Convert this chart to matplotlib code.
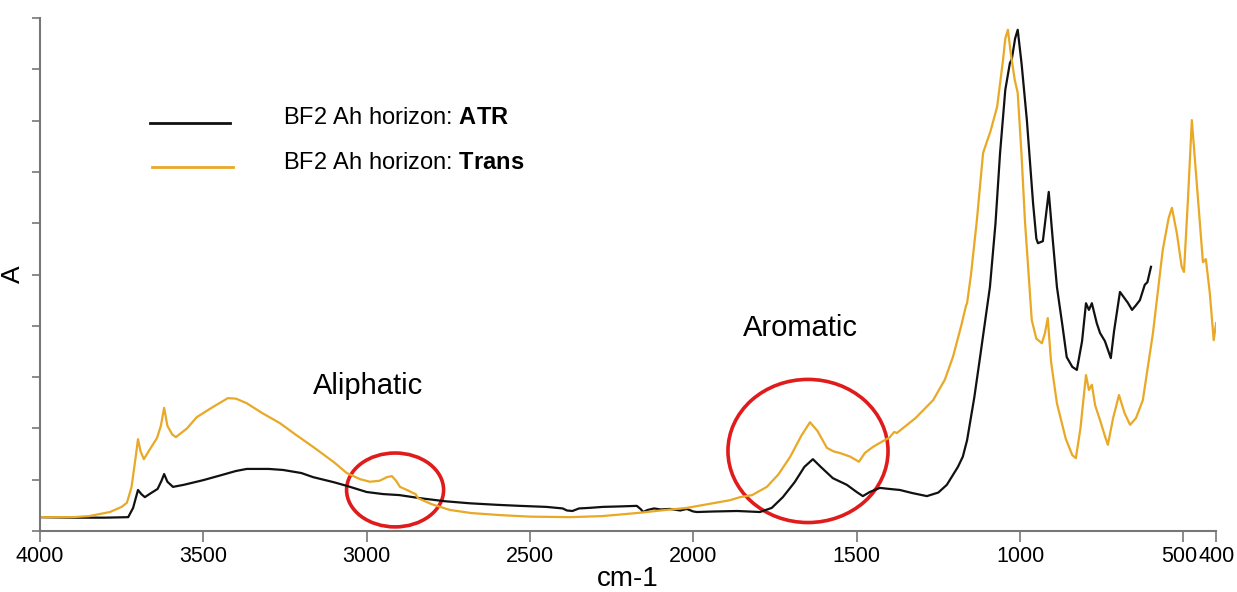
import matplotlib
matplotlib.use("Agg")
import matplotlib.pyplot as plt
import matplotlib.transforms as mtransforms
from matplotlib.patches import Ellipse
from matplotlib.lines import Line2D

plt.rcParams['font.family'] = ['Liberation Sans', 'DejaVu Sans']
plt.rcParams['mathtext.fontset'] = 'custom'
plt.rcParams['mathtext.rm'] = 'Liberation Sans'
plt.rcParams['mathtext.bf'] = 'Liberation Sans:bold'

# BF2 Ah horizon: ATR
wn_atr = [4000, 3900, 3800, 3730, 3715, 3700, 3690, 3679, 3660, 3640, 3628, 3620,
          3610, 3593, 3560, 3501, 3450, 3400, 3367, 3300, 3256, 3200, 3164, 3100,
          3061, 3000, 2950, 2900, 2837, 2760, 2684, 2600, 2531, 2450, 2400, 2387,
          2370, 2350, 2320, 2277, 2220, 2173, 2160, 2154, 2140, 2120, 2100, 2072,
          2040, 2020, 2000, 1989, 1940, 1866, 1830, 1796, 1760, 1726, 1690, 1660,
          1634, 1610, 1573, 1530, 1500, 1481, 1460, 1429, 1400, 1368, 1330, 1285,
          1250, 1224, 1190, 1175, 1162, 1140, 1122, 1092, 1075, 1061, 1045, 1031,
          1025, 1015, 1007, 995, 979, 960, 950, 945, 930, 912, 900, 887, 870, 857,
          840, 826, 810, 798, 789, 780, 765, 755, 740, 722, 712, 694, 670, 657,
          645, 633, 618, 610, 599]
a_atr = [0.27, 0.26, 0.26, 0.27, 0.45, 0.80, 0.72, 0.66, 0.74, 0.82, 0.98, 1.11,
         0.96, 0.86, 0.90, 0.99, 1.08, 1.17, 1.21, 1.21, 1.19, 1.13, 1.05, 0.95,
         0.88, 0.76, 0.72, 0.70, 0.64, 0.58, 0.54, 0.51, 0.49, 0.47, 0.44, 0.40,
         0.39, 0.44, 0.45, 0.47, 0.48, 0.49, 0.42, 0.37, 0.41, 0.44, 0.42, 0.43,
         0.40, 0.43, 0.38, 0.37, 0.38, 0.39, 0.38, 0.37, 0.45, 0.66, 0.95, 1.25,
         1.40, 1.25, 1.03, 0.90, 0.76, 0.68, 0.76, 0.84, 0.82, 0.80, 0.74, 0.68,
         0.75, 0.90, 1.25, 1.45, 1.77, 2.60, 3.40, 4.76, 6.00, 7.37, 8.60, 9.12,
         9.20, 9.60, 9.77, 9.10, 8.01, 6.39, 5.70, 5.61, 5.65, 6.61, 5.70, 4.76,
         4.00, 3.39, 3.20, 3.14, 3.70, 4.44, 4.31, 4.44, 4.05, 3.86, 3.70, 3.37,
         3.90, 4.66, 4.45, 4.31, 4.40, 4.50, 4.80, 4.85, 5.15]

# BF2 Ah horizon: Trans
wn_trans = [4000, 3900, 3850, 3786, 3750, 3734, 3720, 3708, 3700, 3692, 3682, 3665,
            3642, 3630, 3620, 3610, 3595, 3584, 3550, 3520, 3470, 3425, 3400, 3367,
            3320, 3265, 3220, 3164, 3100, 3061, 3020, 2990, 2960, 2938, 2923, 2910,
            2898, 2870, 2858, 2850, 2843, 2800, 2745, 2680, 2592, 2500, 2378, 2280,
            2173, 2100, 2020, 1950, 1888, 1857, 1820, 1775, 1740, 1704, 1670, 1643,
            1620, 1591, 1570, 1551, 1520, 1493, 1475, 1450, 1420, 1400, 1385, 1377,
            1320, 1266, 1230, 1205, 1180, 1165, 1162, 1150, 1132, 1113, 1090, 1070,
            1052, 1045, 1037, 1028, 1016, 1007, 995, 985, 964, 950, 933, 924, 915,
            905, 887, 860, 840, 829, 815, 798, 789, 780, 770, 755, 740, 731, 715,
            697, 680, 663, 645, 624, 593, 563, 545, 535, 520, 505, 498, 486, 474,
            459, 440, 431, 419, 407, 400]
a_trans = [0.27, 0.27, 0.29, 0.37, 0.47, 0.55, 0.85, 1.40, 1.79, 1.55, 1.40, 1.58,
           1.81, 2.05, 2.40, 2.05, 1.88, 1.83, 2.00, 2.22, 2.42, 2.59, 2.58, 2.49,
           2.30, 2.10, 1.89, 1.64, 1.34, 1.13, 1.01, 0.96, 0.98, 1.05, 1.07, 0.98,
           0.86, 0.78, 0.74, 0.72, 0.64, 0.52, 0.41, 0.35, 0.31, 0.28, 0.27, 0.29,
           0.35, 0.40, 0.45, 0.53, 0.60, 0.66, 0.70, 0.86, 1.10, 1.44, 1.85, 2.12,
           1.95, 1.62, 1.55, 1.52, 1.45, 1.35, 1.52, 1.64, 1.75, 1.82, 1.93, 1.91,
           2.20, 2.55, 2.95, 3.40, 4.00, 4.40, 4.44, 5.00, 6.06, 7.37, 7.80, 8.27,
           9.18, 9.60, 9.77, 9.30, 8.79, 8.54, 7.30, 6.06, 4.11, 3.75, 3.66, 3.85, 4.15,
           3.30, 2.49, 1.80, 1.48, 1.42, 2.00, 3.04, 2.75, 2.85, 2.45, 2.16, 1.85, 1.68, 2.20,
           2.65, 2.30, 2.07, 2.20, 2.55, 3.86, 5.48, 6.10, 6.30, 5.81, 5.15, 5.05, 6.45, 8.01,
           6.78, 5.24, 5.30, 4.64, 3.72, 4.05]

x_ticks = [4000, 3500, 3000, 2500, 2000, 1500, 1000, 500, 400]
x_tick_labels = ['4000', '3500', '3000', '2500', '2000', '1500', '1000', '500', '400']

color_atr = '#111111'
color_trans = '#E9A825'
color_circle = '#E01B1B'

fig = plt.figure(figsize=(12.37, 5.92), dpi=100)
ax = fig.add_axes([40 / 1237, 1 - 531 / 592, (1216 - 40) / 1237, (531 - 18) / 592])

ax.plot(wn_atr, a_atr, color=color_atr, lw=1.6)
ax.plot(wn_trans, a_trans, color=color_trans, lw=1.6)

ax.set_xlim(4000, 400)
ax.set_ylim(0, 10)

# circulos rojos
ax.add_patch(Ellipse((2913, 0.80), 297, 1.44, fill=False, edgecolor=color_circle, lw=2.6))
ax.add_patch(Ellipse((1649, 1.56), 490, 2.79, fill=False, edgecolor=color_circle, lw=2.6))
ax.text(2996, 2.83, 'Aliphatic', fontsize=21, ha='center', va='center')
ax.text(1671, 3.96, 'Aromatic', fontsize=21, ha='center', va='center')

# leyenda manual
ax.add_line(Line2D([(150 - 40) / 1176, (230 - 40) / 1176], [(531 - 123) / 513] * 2,
                   transform=ax.transAxes, color=color_atr, lw=2))
ax.add_line(Line2D([(152 - 40) / 1176, (233 - 40) / 1176], [(531 - 167) / 513] * 2,
                   transform=ax.transAxes, color=color_trans, lw=2))
ax.text((283 - 40) / 1176, (531 - 118) / 513, 'BF2 Ah horizon: $\\mathbf{ATR}$',
        transform=ax.transAxes, fontsize=17, va='center', ha='left')
ax.text((283 - 40) / 1176, (531 - 163) / 513, 'BF2 Ah horizon: $\\mathbf{Trans}$',
        transform=ax.transAxes, fontsize=17, va='center', ha='left')

ax.set_xticks(x_ticks)
ax.set_xticklabels(x_tick_labels)
ax.set_yticks(range(0, 11))
ax.set_yticklabels([])
ax.tick_params(axis='x', direction='out', length=8, width=1.2, colors='#777777',
               labelcolor='black', labelsize=15.5, pad=3)
ax.tick_params(axis='y', direction='out', length=6, width=1.2, colors='#777777')

# "500" y "400" quedan pegados como en el original
lbls = ax.get_xticklabels()
lbls[7].set_transform(lbls[7].get_transform() +
                      mtransforms.ScaledTranslation(-4 / 100, 0, fig.dpi_scale_trans))
lbls[8].set_transform(lbls[8].get_transform() +
                      mtransforms.ScaledTranslation(1 / 100, 0, fig.dpi_scale_trans))

for s in ['top', 'right']:
    ax.spines[s].set_visible(False)
for s in ['left', 'bottom']:
    ax.spines[s].set_color('#777777')
    ax.spines[s].set_linewidth(1.5)

ax.set_xlabel('cm-1', fontsize=20, labelpad=-1)
ax.set_ylabel('A', fontsize=19, labelpad=1)

fig.savefig('out.png', dpi=100)
